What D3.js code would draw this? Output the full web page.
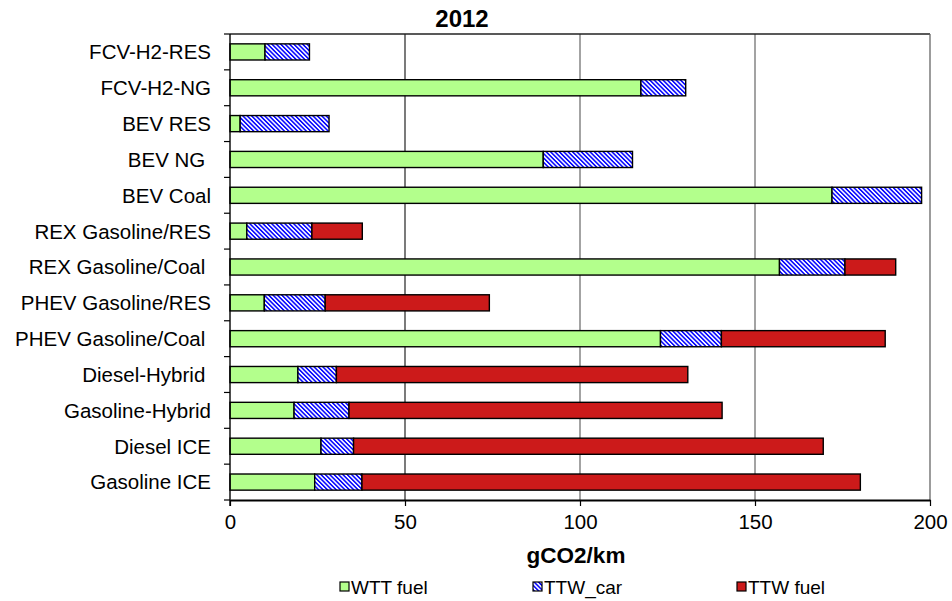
<!DOCTYPE html>
<html>
<head>
<meta charset="utf-8">
<script src="https://cdn.jsdelivr.net/npm/d3@7"></script>
<style>
  body { margin: 0; background: #fff; }
  text { font-family: "Liberation Sans", Arial, sans-serif; fill: #000; }
</style>
</head>
<body>
<script>
// data
const categories = ['FCV-H2-RES', 'FCV-H2-NG', 'BEV RES', 'BEV NG ', 'BEV Coal',
  'REX Gasoline/RES', 'REX Gasoline/Coal ', 'PHEV Gasoline/RES', 'PHEV Gasoline/Coal ',
  'Diesel-Hybrid ', 'Gasoline-Hybrid', 'Diesel ICE', 'Gasoline ICE']
const wttFuel = [10, 117.4, 2.9, 89.5, 172, 4.8, 157, 9.8, 123, 19.4, 18.3, 26, 24.2]
const ttwCar = [12.7, 12.8, 25.4, 25.5, 25.6, 18.6, 18.7, 17.4, 17.4, 11, 15.7, 9.3, 13.5]
const ttwFuel = [0, 0, 0, 0, 0, 14.4, 14.5, 46.9, 46.8, 100.4, 106.6, 134.2, 142.4]
const seriesNames = ['WTT fuel', 'TTW_car', 'TTW fuel']
const xTicks = [0, 50, 100, 150, 200]

const width = 952
const height = 601
const margin = { top: 34, right: 22, bottom: 101, left: 230 }
const innerWidth = width - margin.left - margin.right
const innerHeight = height - margin.top - margin.bottom

const rows = categories.map((c, i) => ({
  cat: c, 'WTT fuel': wttFuel[i], 'TTW_car': ttwCar[i], 'TTW fuel': ttwFuel[i]
}))
const stacked = d3.stack().keys(seriesNames)(rows)

const svg = d3.select('body').append('svg')
  .attr('width', width)
  .attr('height', height)

// hatch for TTW_car
const defs = svg.append('defs')
const pat = defs.append('pattern')
  .attr('id', 'hatch')
  .attr('patternUnits', 'userSpaceOnUse')
  .attr('width', 3.1)
  .attr('height', 3.1)
  .attr('patternTransform', 'rotate(-45)')
pat.append('rect').attr('width', 3.1).attr('height', 3.1).attr('fill', '#fff')
pat.append('rect').attr('width', 1.6).attr('height', 3.1).attr('fill', '#0a0aff')

const fills = { 'WTT fuel': '#b3ff8c', 'TTW_car': 'url(#hatch)', 'TTW fuel': '#cc1a1a' }

const main = svg.append('g')
  .attr('transform', `translate(${margin.left}, ${margin.top})`)

const x = d3.scaleLinear().domain([0, 200]).range([0, innerWidth])
const y = d3.scaleBand().domain(categories).range([0, innerHeight]).paddingInner(0.55).paddingOuter(0.275)
const yEdges = d3.scaleBand().domain(categories).range([0, innerHeight])

// gridlines
main.append('g')
  .selectAll('line')
  .data(xTicks.filter(d => d > 0 && d < 200))
  .enter()
  .append('line')
  .attr('x1', d => x(d)).attr('x2', d => x(d))
  .attr('y1', 0).attr('y2', innerHeight)
  .attr('stroke', (d, i) => i === 0 ? '#222' : '#666')
  .attr('stroke-width', 1.2)

// frame top / right
main.append('line')
  .attr('x1', 0).attr('x2', innerWidth).attr('y1', 0).attr('y2', 0)
  .attr('stroke', '#222').attr('stroke-width', 1.3)
main.append('line')
  .attr('x1', innerWidth).attr('x2', innerWidth).attr('y1', 0).attr('y2', innerHeight)
  .attr('stroke', '#666').attr('stroke-width', 1.3)

// bars
main.append('g')
  .selectAll('g')
  .data(stacked)
  .enter()
  .append('g')
  .attr('fill', d => fills[d.key])
  .selectAll('rect')
  .data(d => d.filter(s => s[1] - s[0] > 0))
  .enter()
  .append('rect')
  .attr('x', d => x(d[0]))
  .attr('width', d => x(d[1]) - x(d[0]))
  .attr('y', d => y(d.data.cat))
  .attr('height', y.bandwidth())
  .attr('stroke', '#000')
  .attr('stroke-width', 1.4)

// y axis (ticks on band edges)
const yAxisG = main.append('g')
yAxisG.append('line')
  .attr('x1', 0).attr('x2', 0).attr('y1', 0).attr('y2', innerHeight + 6)
  .attr('stroke', '#000').attr('stroke-width', 1.4)
yAxisG.selectAll('.tick')
  .data(categories.concat(['end']))
  .enter()
  .append('line')
  .attr('x1', -6).attr('x2', 0)
  .attr('y1', (d, i) => i * yEdges.step())
  .attr('y2', (d, i) => i * yEdges.step())
  .attr('stroke', '#000').attr('stroke-width', 1.2)
yAxisG.selectAll('text')
  .data(categories)
  .enter()
  .append('text')
  .attr('x', -19)
  .attr('y', d => y(d) + y.bandwidth() / 2)
  .attr('dy', '0.36em')
  .attr('text-anchor', 'end')
  .style('white-space', 'pre')
  .attr('font-size', '20.5px')
  .text(d => d)

// x axis
const xAxis = d3.axisBottom(x)
  .tickValues(xTicks)
  .tickSize(6)
  .tickSizeOuter(0)
  .tickPadding(8)
  .tickFormat(d3.format('d'))
const xAxisG = main.append('g')
  .attr('transform', `translate(0, ${innerHeight})`)
  .call(xAxis)
xAxisG.select('.domain').attr('stroke', '#000').attr('stroke-width', 2)
xAxisG.selectAll('.tick line').attr('stroke', '#000').attr('stroke-width', 1.2)
xAxisG.selectAll('.tick text')
  .attr('font-family', '"Liberation Sans", Arial, sans-serif')
  .attr('font-size', '20.5px')
  .attr('fill', '#000')

// title
svg.append('text')
  .attr('x', 462).attr('y', 27)
  .attr('text-anchor', 'middle')
  .attr('font-size', '24px')
  .attr('font-weight', 'bold')
  .text('2012')

// axis title
svg.append('text')
  .attr('x', margin.left + innerWidth / 2 - 4).attr('y', 563)
  .attr('text-anchor', 'middle')
  .attr('font-size', '22.5px')
  .attr('font-weight', 'bold')
  .text('gCO2/km')

// legend
const legendX = [340, 533, 737]
const legend = svg.append('g')
  .selectAll('g')
  .data(seriesNames)
  .enter()
  .append('g')
  .attr('transform', (d, i) => `translate(${legendX[i]}, 582)`)
legend.append('rect')
  .attr('width', 9).attr('height', 9)
  .attr('fill', d => fills[d])
  .attr('stroke', '#000').attr('stroke-width', 1.2)
legend.append('text')
  .attr('x', 11).attr('y', 11.5)
  .attr('font-size', '19px')
  .text(d => d)
</script>
</body>
</html>
